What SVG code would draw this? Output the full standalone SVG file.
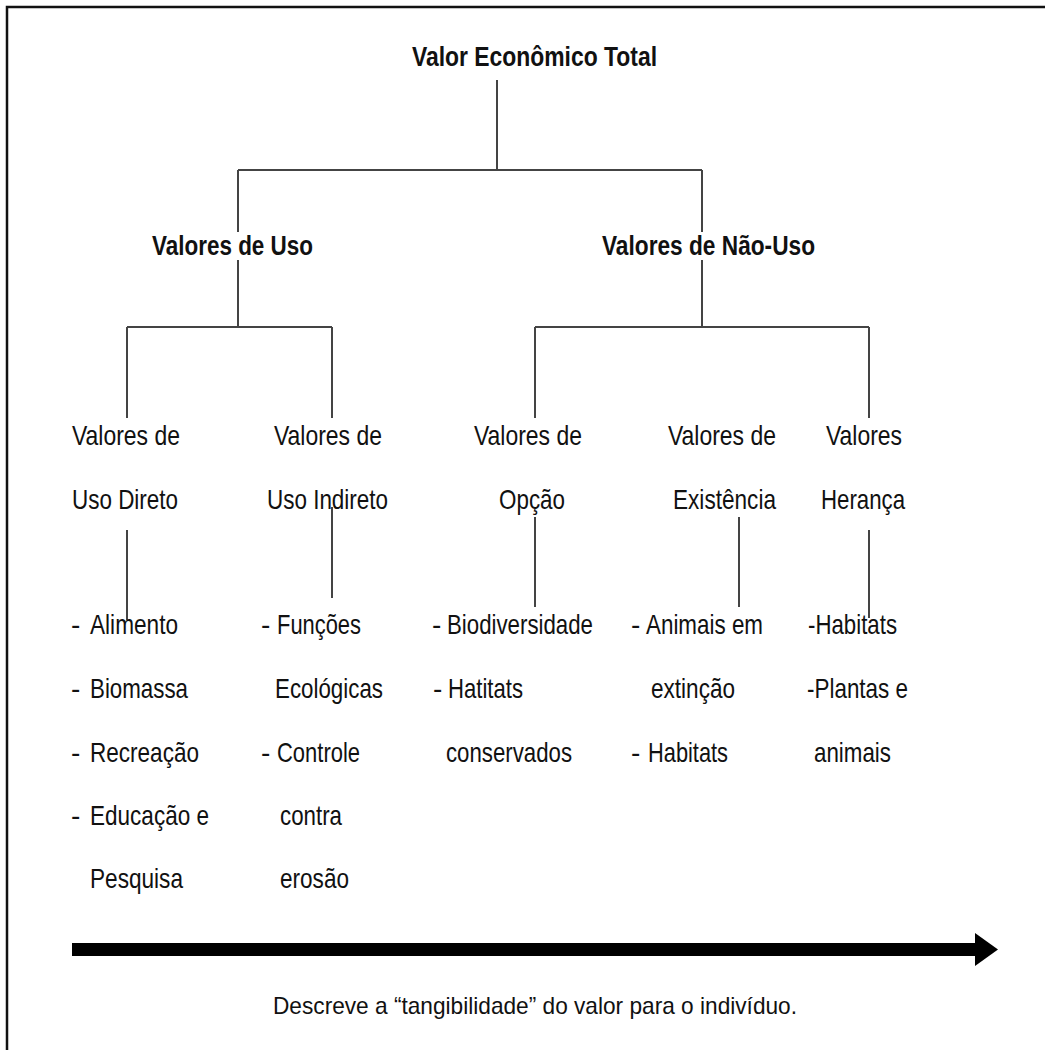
<svg xmlns="http://www.w3.org/2000/svg" width="1045" height="1050" viewBox="0 0 1045 1050">
<style>
text{font-family:"Liberation Sans",Arial,sans-serif;font-size:28px;fill:#111}
.b{font-weight:bold}
.c line{stroke:#444;stroke-width:2}
.f{font-size:24px}
</style>
<rect width="1045" height="1050" fill="#fff"/>
<g id="frame" stroke="#111" stroke-width="2.5" fill="none">
<path d="M7,1050 V7 H1045"/>
</g>
<g class="c" id="connectors">
<line x1="497" y1="80" x2="497" y2="170"/>
<line x1="238" y1="170" x2="702" y2="170"/>
<line x1="238" y1="170" x2="238" y2="232"/>
<line x1="238" y1="260" x2="238" y2="327"/>
<line x1="702" y1="170" x2="702" y2="232"/>
<line x1="702" y1="260" x2="702" y2="327"/>
<line x1="127" y1="327" x2="332" y2="327"/>
<line x1="535" y1="327" x2="869" y2="327"/>
<line x1="127" y1="327" x2="127" y2="418"/>
<line x1="332" y1="327" x2="332" y2="418"/>
<line x1="535" y1="327" x2="535" y2="418"/>
<line x1="869" y1="327" x2="869" y2="418"/>
<line x1="127" y1="530" x2="127" y2="620"/>
<line x1="332" y1="507" x2="332" y2="598"/>
<line x1="535" y1="517" x2="535" y2="607"/>
<line x1="739" y1="517" x2="739" y2="607"/>
<line x1="869" y1="530" x2="869" y2="618"/>
</g>
<g id="total"><text class="b" x="412" y="66" textLength="245" lengthAdjust="spacingAndGlyphs">Valor Econômico Total</text></g>
<g id="uso"><text class="b" x="152" y="255" textLength="161" lengthAdjust="spacingAndGlyphs">Valores de Uso</text></g>
<g id="naouso"><text class="b" x="602" y="255" textLength="213" lengthAdjust="spacingAndGlyphs">Valores de Não-Uso</text></g>

<g id="direto">
<text x="72" y="445" textLength="108" lengthAdjust="spacingAndGlyphs">Valores de</text>
<text x="72" y="509" textLength="106" lengthAdjust="spacingAndGlyphs">Uso Direto</text>
</g>
<g id="indireto">
<text x="274" y="445" textLength="108" lengthAdjust="spacingAndGlyphs">Valores de</text>
<text x="267" y="509" textLength="121" lengthAdjust="spacingAndGlyphs">Uso Indireto</text>
</g>
<g id="opcao">
<text x="474" y="445" textLength="108" lengthAdjust="spacingAndGlyphs">Valores de</text>
<text x="499" y="509" textLength="66" lengthAdjust="spacingAndGlyphs">Opção</text>
</g>
<g id="existencia">
<text x="668" y="445" textLength="108" lengthAdjust="spacingAndGlyphs">Valores de</text>
<text x="673" y="509" textLength="103" lengthAdjust="spacingAndGlyphs">Existência</text>
</g>
<g id="heranca">
<text x="826" y="445" textLength="76" lengthAdjust="spacingAndGlyphs">Valores</text>
<text x="821" y="509" textLength="84" lengthAdjust="spacingAndGlyphs">Herança</text>
</g>

<g id="lista-direto">
<text x="71" y="634">-</text><text x="90" y="634" textLength="88" lengthAdjust="spacingAndGlyphs">Alimento</text>
<text x="71" y="698">-</text><text x="90" y="698" textLength="98" lengthAdjust="spacingAndGlyphs">Biomassa</text>
<text x="71" y="762">-</text><text x="90" y="762" textLength="109" lengthAdjust="spacingAndGlyphs">Recreação</text>
<text x="71" y="825">-</text><text x="90" y="825" textLength="119" lengthAdjust="spacingAndGlyphs">Educação e</text>
<text x="90" y="888" textLength="93" lengthAdjust="spacingAndGlyphs">Pesquisa</text>
</g>
<g id="lista-indireto">
<text x="261" y="634">-</text><text x="277" y="634" textLength="84" lengthAdjust="spacingAndGlyphs">Funções</text>
<text x="275" y="698" textLength="108" lengthAdjust="spacingAndGlyphs">Ecológicas</text>
<text x="261" y="762">-</text><text x="277" y="762" textLength="83" lengthAdjust="spacingAndGlyphs">Controle</text>
<text x="280" y="825" textLength="62" lengthAdjust="spacingAndGlyphs">contra</text>
<text x="280" y="888" textLength="69" lengthAdjust="spacingAndGlyphs">erosão</text>
</g>
<g id="lista-opcao">
<text x="432" y="634">-</text><text x="447" y="634" textLength="146" lengthAdjust="spacingAndGlyphs">Biodiversidade</text>
<text x="433" y="698">-</text><text x="448" y="698" textLength="75" lengthAdjust="spacingAndGlyphs">Hatitats</text>
<text x="446" y="762" textLength="126" lengthAdjust="spacingAndGlyphs">conservados</text>
</g>
<g id="lista-existencia">
<text x="631" y="634">-</text><text x="646" y="634" textLength="117" lengthAdjust="spacingAndGlyphs">Animais em</text>
<text x="651" y="698" textLength="84" lengthAdjust="spacingAndGlyphs">extinção</text>
<text x="631" y="762">-</text><text x="648" y="762" textLength="80" lengthAdjust="spacingAndGlyphs">Habitats</text>
</g>
<g id="lista-heranca">
<text x="808" y="634" textLength="89" lengthAdjust="spacingAndGlyphs">-Habitats</text>
<text x="807" y="698" textLength="101" lengthAdjust="spacingAndGlyphs">-Plantas e</text>
<text x="814" y="762" textLength="77" lengthAdjust="spacingAndGlyphs">animais</text>
</g>

<g id="seta">
<rect x="72" y="943" width="905" height="13" fill="#000"/>
<polygon points="975,933 998,949.5 975,966" fill="#000"/>
</g>
<g id="legenda"><text class="f" x="273" y="1014" textLength="524" lengthAdjust="spacingAndGlyphs">Descreve a “tangibilidade” do valor para o indivíduo.</text></g>
</svg>
